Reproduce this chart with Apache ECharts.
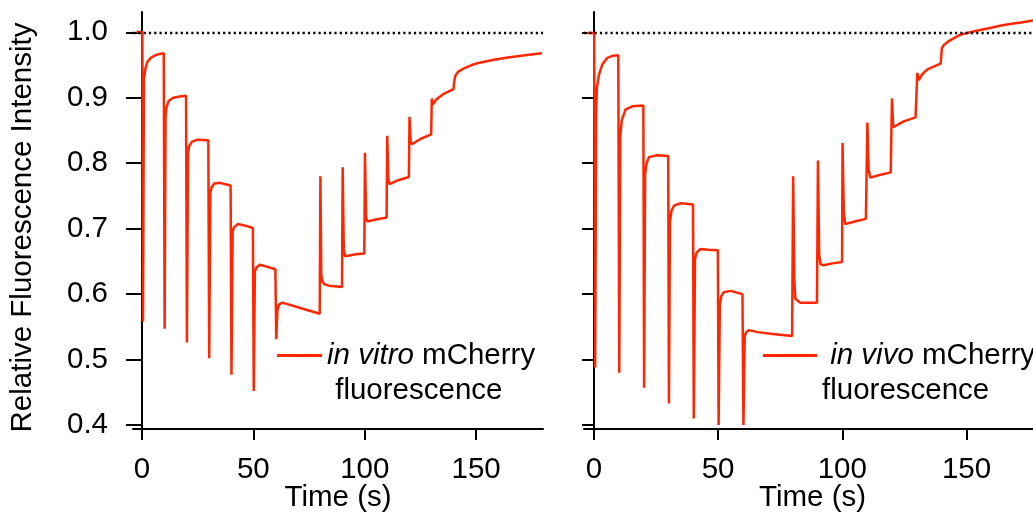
<!DOCTYPE html>
<html>
<head>
<meta charset="utf-8">
<script src="https://cdn.jsdelivr.net/npm/echarts@6/dist/echarts.min.js"></script>
<style>
	html, body { margin: 0; padding: 0; background: #fff; }
	#chart { width: 1033px; height: 512px; }
</style>
</head>
<body>
<div id="chart"></div>
<script>
// time (s) and relative intensity
const vitroT = [-2.4, 0.2, 0.5, 0.9, 1.2, 1.6, 2.5, 4, 6, 8, 9.8,
	10.2, 10.6, 11, 12, 14, 17, 19.8,
	20.2, 20.7, 21.2, 22.5, 25, 29.8,
	30.2, 30.7, 31.3, 32.5, 35, 39.8,
	40.2, 40.7, 41.3, 43, 46, 49.8,
	50.2, 50.7, 51.5, 53, 56, 59.9,
	60.3, 60.8, 61.5, 63, 70, 79.8,
	80.1, 80.5, 81, 82, 84, 89.8,
	90.1, 90.6, 91.2, 93, 96, 99.8,
	100.1, 100.6, 101.2, 105, 109.8,
	110.1, 110.6, 111.2, 115, 119.8,
	120.1, 120.6, 121.2, 125, 129.8,
	130.1, 130.6, 132, 135, 139.8,
	140.2, 140.6, 142, 144, 148, 152, 158, 165, 172, 179.5];
const vitroF = [1.001, 1.0, 0.558, 0.93, 0.935, 0.945, 0.955, 0.961, 0.965, 0.967, 0.968,
	0.547, 0.872, 0.885, 0.895, 0.9, 0.902, 0.903,
	0.526, 0.815, 0.826, 0.833, 0.836, 0.835,
	0.502, 0.755, 0.763, 0.769, 0.77, 0.766,
	0.477, 0.695, 0.702, 0.707, 0.705, 0.701,
	0.452, 0.635, 0.641, 0.645, 0.642, 0.638,
	0.531, 0.575, 0.584, 0.587, 0.58, 0.57,
	0.78, 0.63, 0.619, 0.615, 0.613, 0.611,
	0.794, 0.668, 0.658, 0.659, 0.661, 0.662,
	0.816, 0.718, 0.711, 0.714, 0.717,
	0.842, 0.775, 0.768, 0.774, 0.779,
	0.871, 0.833, 0.829, 0.837, 0.844,
	0.899, 0.89, 0.897, 0.905, 0.913,
	0.925, 0.933, 0.94, 0.944, 0.95, 0.954, 0.958, 0.962, 0.965, 0.968];

const vivoT = [-2.7, 0.1, 0.5, 0.9, 1.2, 2, 3.4, 5.4, 7.5, 9.8,
	10.2, 10.6, 11.2, 12.7, 15.4, 19.9,
	20.2, 20.6, 21.2, 22.1, 25, 29.9,
	30.2, 30.6, 31.2, 32.2, 35, 39.9,
	40.2, 40.7, 41.3, 42.9, 46, 49.9,
	50.2, 50.7, 51.3, 52.3, 55, 59.8,
	60.2, 60.7, 61.3, 62.3, 66, 72, 79.8,
	80.2, 80.7, 81.1, 83, 89.8,
	90.2, 90.7, 91.2, 92.5, 96, 99.9,
	100.1, 100.6, 101.2, 105, 109.5,
	110.1, 110.6, 111.3, 115, 119.5,
	120.0, 120.5, 121, 124.7, 129.5,
	130.2, 130.8, 132, 134.1, 137, 139.6,
	140.1, 141, 142.7, 145, 147.4, 151.5, 155, 159.5, 163.5, 167.5, 172, 176.8, 180];
const vivoF = [0.999, 0.999, 0.488, 0.88, 0.915, 0.935, 0.951, 0.961, 0.964, 0.965,
	0.48, 0.842, 0.865, 0.882, 0.887, 0.888,
	0.457, 0.783, 0.8, 0.809, 0.812, 0.811,
	0.433, 0.71, 0.727, 0.735, 0.739, 0.737,
	0.41, 0.654, 0.663, 0.669, 0.668, 0.667,
	0.4, 0.585, 0.597, 0.603, 0.605, 0.6,
	0.4, 0.535, 0.542, 0.545, 0.542, 0.539, 0.536,
	0.78, 0.62, 0.593, 0.587, 0.587,
	0.804, 0.66, 0.646, 0.644, 0.647, 0.649,
	0.831, 0.725, 0.707, 0.711, 0.715,
	0.862, 0.79, 0.778, 0.782, 0.786,
	0.899, 0.855, 0.852, 0.864, 0.87,
	0.938, 0.927, 0.935, 0.943, 0.948, 0.952,
	0.976, 0.981, 0.986, 0.991, 0.996, 1.0, 1.003, 1.0066, 1.01, 1.0127, 1.015, 1.018, 1.02];

const xTicks = [0, 50, 100, 150];
const yTicks = [0.4, 0.5, 0.6, 0.7, 0.8, 0.9, 1.0];
const refLevel = 1.0;

const red = '#ff2600';
const font = 'Liberation Sans, Arial, sans-serif';
const fs = 29.5;

const pairs = (t, f) => t.map((v, i) => [v, f[i]]);

const xAxisBase = (idx) => ({
	type: 'value',
	gridIndex: idx,
	min: -4,
	max: 180,
	name: 'Time (s)',
	nameLocation: 'middle',
	nameMoveOverlap: false,
	nameGap: 54,
	nameTextStyle: { fontFamily: font, fontSize: fs, color: '#000' },
	axisLine: { lineStyle: { color: '#000', width: 2 } },
	axisTick: { length: 11, lineStyle: { color: '#000', width: 2 }, customValues: xTicks },
	axisLabel: { fontFamily: font, fontSize: fs, color: '#000', margin: 26, customValues: xTicks },
	splitLine: { show: false },
});

const yAxisBase = (idx) => ({
	type: 'value',
	gridIndex: idx,
	min: 0.394,
	max: 1.031,
	axisLine: { show: true, lineStyle: { color: '#000', width: 2 } },
	axisTick: { length: idx === 0 ? 16 : 12, lineStyle: { color: '#000', width: 2 }, customValues: yTicks },
	axisLabel: {
		show: idx === 0,
		fontFamily: font, fontSize: fs, color: '#000', margin: 25,
		customValues: yTicks,
		formatter: (v) => v.toFixed(1),
	},
	splitLine: { show: false },
});

const refLine = {
	silent: true,
	symbol: 'none',
	label: { show: false },
	lineStyle: { color: '#000', type: [2.2, 3.1], width: 2.4 },
	data: [{ yAxis: refLevel }],
};

const legendBase = (name, left, w, fmt) => ({
	data: [name],
	left: left,
	top: 303,
	padding: 0,
	icon: 'rect',
	itemWidth: w,
	itemHeight: 3,
	selectedMode: false,
	formatter: fmt,
	textStyle: {
		fontFamily: font, fontSize: fs, color: '#000', lineHeight: 35,
		rich: { i: { fontFamily: font, fontSize: fs, fontStyle: 'italic', color: '#000', lineHeight: 35 } },
	},
});

const chart = echarts.init(document.getElementById('chart'));
chart.setOption({
	animation: false,
	backgroundColor: '#fff',
	grid: [
		{ left: 133, top: 12, right: 490, bottom: 83, outerBoundsMode: 'none' },
		{ left: 584, top: 12, right: -8, bottom: 83, outerBoundsMode: 'none' },
	],
	xAxis: [xAxisBase(0), xAxisBase(1)],
	yAxis: [
		Object.assign(yAxisBase(0), {
			name: 'Relative Fluorescence Intensity',
			nameLocation: 'middle',
			nameGap: 95,
			nameTextStyle: { fontFamily: font, fontSize: fs, color: '#000', padding: [0, 14, 0, 0] },
		}),
		yAxisBase(1),
	],
	legend: [
		legendBase('in vitro', 277, 45, () => '\n{i|in vitro} mCherry\n fluorescence'),
		legendBase('in vivo', 763, 54, () => '\n {i|in vivo} mCherry\nfluorescence'),
	],
	series: [
		{
			name: 'in vitro',
			type: 'line',
			xAxisIndex: 0,
			yAxisIndex: 0,
			showSymbol: false,
			lineStyle: { color: red, width: 2.5 },
			itemStyle: { color: red },
			data: pairs(vitroT, vitroF),
			markLine: refLine,
			z: 3,
		},
		{
			name: 'in vivo',
			type: 'line',
			xAxisIndex: 1,
			yAxisIndex: 1,
			showSymbol: false,
			lineStyle: { color: red, width: 2.5 },
			itemStyle: { color: red },
			data: pairs(vivoT, vivoF),
			markLine: refLine,
			z: 3,
		},
	],
});
</script>
</body>
</html>
